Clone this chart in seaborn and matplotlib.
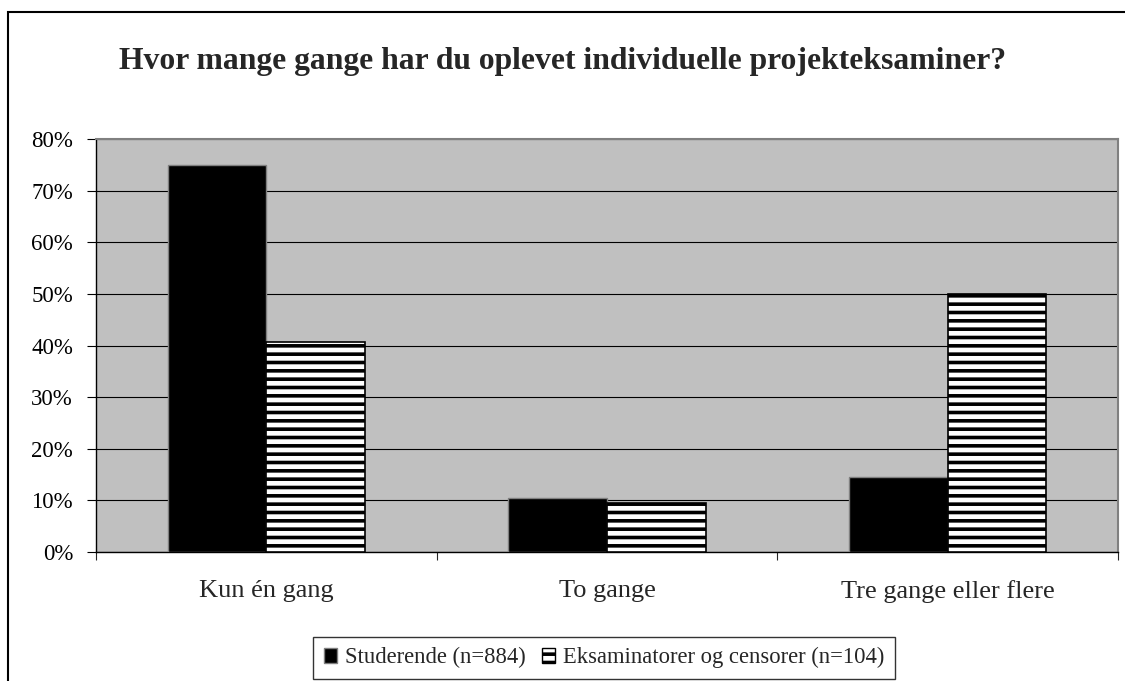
import matplotlib
matplotlib.use("Agg")
import matplotlib.pyplot as plt
import matplotlib.patches as mpatches
from matplotlib.ticker import PercentFormatter, MultipleLocator
import numpy as np
import pandas as pd
import seaborn as sns

# data
categories = ["Kun én gang", "To gange", "Tre gange eller flere"]
groups = ["Studerende (n=884)", "Eksaminatorer og censorer (n=104)"]
studerende = [75.0, 10.4, 14.6]
eksaminatorer = [40.6, 9.5, 49.9]

df = pd.DataFrame({
    "kategori": categories * 2,
    "gruppe": [groups[0]] * 3 + [groups[1]] * 3,
    "andel": studerende + eksaminatorer,
})

sns.set_style("white")
plt.rcParams["font.family"] = ["Liberation Serif", "DejaVu Serif"]
plt.rcParams["hatch.linewidth"] = 2.6

fig = plt.figure(figsize=(11.25, 6.81), dpi=100)
ax = fig.add_axes([0.0853, 0.1894, 0.9085, 0.6065])

sns.barplot(data=df, x="kategori", y="andel", hue="gruppe", order=categories,
            hue_order=groups, palette=["black", "white"], width=0.58,
            gap=0, saturation=1, errorbar=None, ax=ax, legend=False, zorder=3)

# style bars: first hue black with grey edge, second hue striped
n = len(categories)
for i, p in enumerate(ax.patches):
    if i < n:
        p.set_facecolor("black")
        p.set_edgecolor("#7f7f7f")
        p.set_linewidth(1.0)
    else:
        p.set_facecolor("white")
        p.set_edgecolor("black")
        p.set_hatch("--")
        p.set_linewidth(1.2)

ax.set_facecolor("#c0c0c0")
ax.set_ylim(0, 80)
ax.set_xlim(-0.5, 2.5)
ax.yaxis.set_major_locator(MultipleLocator(10))
ax.yaxis.set_major_formatter(PercentFormatter(decimals=0))
ax.grid(axis="y", color="black", linewidth=0.8, zorder=1)
ax.set_axisbelow(True)
ax.set_xlabel("")
ax.set_ylabel("")

for s in ["top", "right"]:
    ax.spines[s].set_color("#808080")
    ax.spines[s].set_linewidth(1.5)
for s in ["left", "bottom"]:
    ax.spines[s].set_color("black")
    ax.spines[s].set_linewidth(1.0)

ax.tick_params(axis="y", direction="out", length=6.5, width=0.8, pad=10,
               labelsize=16.5, left=True, colors="black")
ax.tick_params(axis="x", which="major", length=0, pad=20, labelsize=19)
ax.set_xticks([-0.5, 0.5, 1.5, 2.5], minor=True)
ax.tick_params(axis="x", which="minor", direction="out", length=6, width=0.8,
               bottom=True)

fig.text(0.5, 0.91, "Hvor mange gange har du oplevet individuelle projekteksaminer?",
         ha="center", va="center", fontsize=22.8, fontweight="bold")

handles = [
    mpatches.Patch(facecolor="black", edgecolor="#7f7f7f", label=groups[0]),
    mpatches.Patch(facecolor="white", edgecolor="black", hatch="--", label=groups[1]),
]
leg = fig.legend(handles=handles, loc="center", bbox_to_anchor=(0.537, 0.034),
                 ncol=2, fontsize=16.3, frameon=True, fancybox=False,
                 handlelength=0.6, handleheight=0.6, handletextpad=0.35,
                 columnspacing=0.7, borderpad=0.45)
leg.get_frame().set_edgecolor("black")
leg.get_frame().set_linewidth(1.0)

# outer chart frame (right and bottom fall outside the image)
fig.patches.append(mpatches.Rectangle((0.0067, -0.1), 1.2, 1.083, transform=fig.transFigure,
                                      fill=False, edgecolor="black", linewidth=1.5))

fig.savefig("out.png", dpi=100)
